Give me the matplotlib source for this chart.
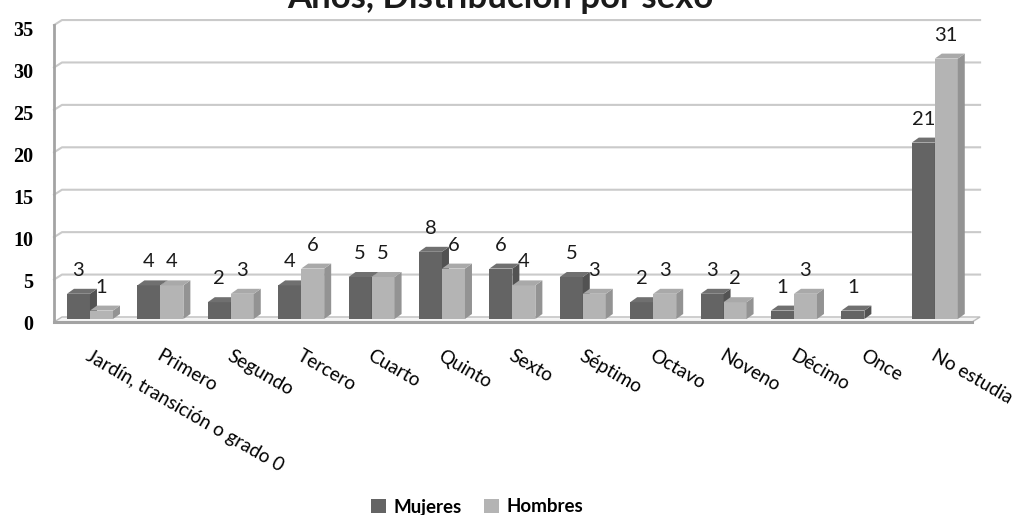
import matplotlib
matplotlib.use("Agg")
import matplotlib.pyplot as plt
from matplotlib.patches import Polygon, Rectangle
from matplotlib.lines import Line2D
from matplotlib.transforms import ScaledTranslation

categories = ["Jardín, transición o grado 0", "Primero", "Segundo", "Tercero",
              "Cuarto", "Quinto", "Sexto", "Séptimo", "Octavo", "Noveno",
              "Décimo", "Once", "No estudia"]
mujeres = [3, 4, 2, 4, 5, 8, 6, 5, 2, 3, 1, 1, 21]
hombres = [1, 4, 3, 6, 5, 6, 4, 3, 3, 2, 3, 0, 31]
yticks = [0, 5, 10, 15, 20, 25, 30, 35]
series = [("Mujeres", mujeres), ("Hombres", hombres)]
title = "Años, Distribución por sexo"

W, H = 1019, 515
fig = plt.figure(figsize=(W / 100, H / 100), dpi=100)

# plot area in pixels
px_left, px_right, px_top, px_zero = 54, 985, 15, 319
px_per_cat = 70.4
px_per_val = 8.4
x0 = -0.511
x1 = x0 + (px_right - px_left) / px_per_cat
y1 = (px_zero - px_top) / px_per_val
ax = fig.add_axes([px_left / W, 1 - px_zero / H, (px_right - px_left) / W,
                   (px_zero - px_top) / H])
ax.set_xlim(x0, x1)
ax.set_ylim(0, y1)
for s in ax.spines.values():
    s.set_visible(False)

# depth offsets (data units)
dxw = 8 / px_per_cat
dxb = 7 / px_per_cat
dyb = 5 / px_per_val
bw = 23 / px_per_cat
x_floor_end = 12.53


def back(v):
    return v * 1.01 + 0.24


def front(v):
    return v * 1.01 - 0.36


grid_c = "#cacaca"
wall_c = "#a3a3a3"
# gridlines on back wall with diagonal on left wall
for v in yticks[1:]:
    ax.add_line(Line2D([x0, x0 + dxw, x0 + (x1 - x0) - 0.07],
                       [front(v), back(v), back(v)], color=grid_c, lw=1.5,
                       clip_on=False, zorder=1))
# left wall front edge
ax.add_line(Line2D([x0, x0], [front(0), front(35)], color=wall_c, lw=2.0,
                   clip_on=False, zorder=2))
# floor
floor = Polygon([[x0, front(0)], [x_floor_end, front(0)],
                 [x_floor_end + dxw, back(0)], [x0 + dxw, back(0)]],
                closed=True, facecolor="#f4f4f4", edgecolor="#bdbdbd", lw=1.0,
                clip_on=False, zorder=1)
ax.add_patch(floor)
ax.add_line(Line2D([x0, x_floor_end], [front(0), front(0)], color=wall_c,
                   lw=2.2, clip_on=False, zorder=2))

colors = {
    "Mujeres": ("#646464", "#525252", "#707070"),
    "Hombres": ("#b4b4b4", "#939393", "#a9a9a9"),
}

for k, (name, vals) in enumerate(series):
    fc, sc, tc = colors[name]
    for i, v in enumerate(vals):
        xl = i - bw + k * bw
        xr = xl + bw
        if v <= 0:
            continue
        z = 3
        ax.add_patch(Rectangle((xl, 0), bw, v, facecolor=fc, edgecolor="none",
                               zorder=z, clip_on=False))
        ax.add_patch(Polygon([[xr, 0], [xr + dxb, dyb], [xr + dxb, v + dyb],
                              [xr, v]], closed=True, facecolor=sc,
                             edgecolor="none", zorder=z, clip_on=False))
        ax.add_patch(Polygon([[xl, v], [xr, v], [xr + dxb, v + dyb],
                              [xl + dxb, v + dyb]], closed=True, facecolor=tc,
                             edgecolor="none", zorder=z, clip_on=False))
        ax.annotate(str(v), (xl + bw / 2, v), xytext=(0, 15),
                    textcoords="offset pixels", ha="center", va="bottom",
                    fontsize=14.5, family="Lato", color="#1a1a1a", zorder=5)

ax.set_yticks(yticks)
ax.set_yticklabels([str(t) for t in yticks], family="Liberation Serif",
                   fontweight="bold", fontsize=14.5)
ax.tick_params(axis="y", length=0, pad=15)
for lab in ax.get_yticklabels():
    lab.set_transform(lab.get_transform() +
                      ScaledTranslation(0, -3 / 100, fig.dpi_scale_trans))
ax.set_xticks(range(len(categories)))
ax.set_xticklabels(categories, rotation=-30, ha="left", va="top",
                   rotation_mode="anchor", family="Lato", fontsize=13.7)
ax.tick_params(axis="x", length=0, pad=20)
for lab in ax.get_xticklabels():
    lab.set_transform(lab.get_transform() +
                      ScaledTranslation(2 / 100, 0, fig.dpi_scale_trans))

fig.text(500 / W, 1 - 8 / H, title, ha="center", va="baseline", fontsize=25,
         fontweight="bold", family="Lato", color="#1a1a1a")

handles = [Rectangle((0, 0), 1, 1, facecolor=colors[n][0]) for n, _ in series]
fig.legend(handles, [n for n, _ in series], loc="center",
           bbox_to_anchor=(477 / W, 1 - 507 / H), ncol=2, frameon=False,
           prop={"family": "Lato", "size": 13.5, "weight": "bold"},
           handlelength=0.8, handleheight=0.8, handletextpad=0.4,
           columnspacing=1.2)

fig.savefig("out.png", dpi=100)
